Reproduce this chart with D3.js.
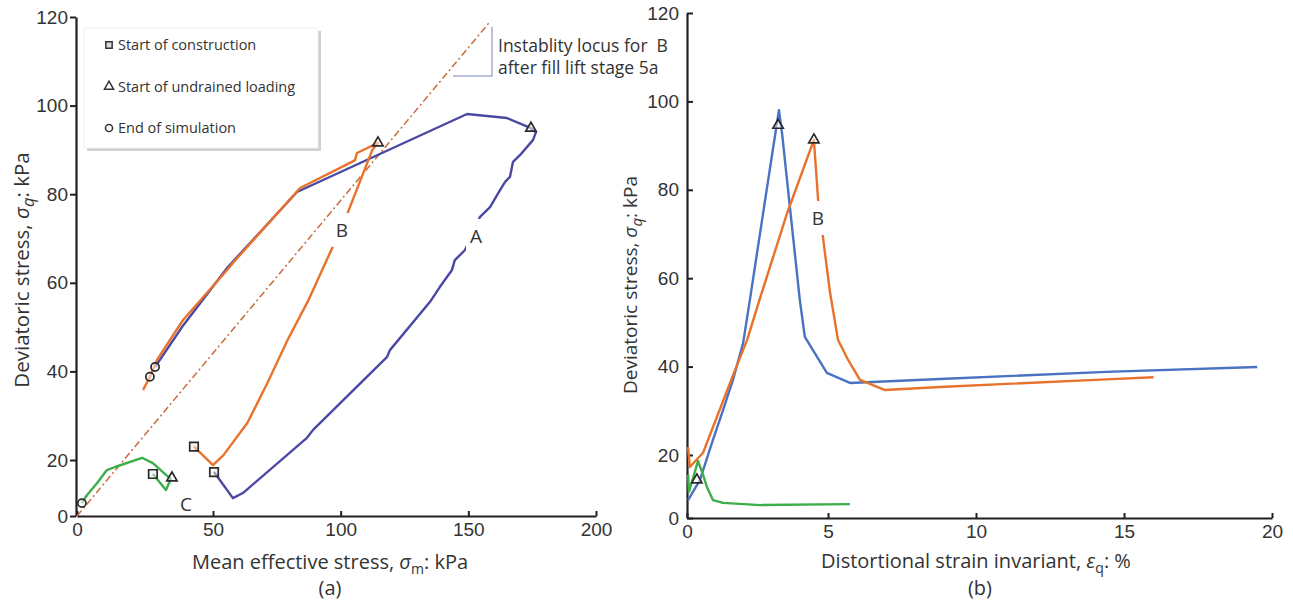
<!DOCTYPE html>
<html lang="en">
<head>
<meta charset="UTF-8">
<title>Stress paths</title>
<script src="https://d3js.org/d3.v7.min.js"></script>
<style>
    body { margin: 0; background: #fff; }
    svg { font-family: "Open Sans", "Noto Sans", sans-serif; }
    .tick text { font-size: 19px; fill: #333; }
    .tick line { stroke: #231f20; stroke-width: 2; }
    .domain { stroke: #231f20; stroke-width: 2.2; }
    .title { font-size: 20px; fill: #333; }
    .leg { font-size: 14.5px; fill: #333; }
    .note { font-size: 17.5px; fill: #333; }
    .lbl { font-size: 19px; fill: #333; }
</style>
</head>
<body>
<svg id="canvas" width="1293" height="602"></svg>
<script>
// ---- data (a): mean effective stress vs deviatoric stress, kPa
let pTicks = [0, 50, 100, 150, 200];
let qTicks = [0, 20, 40, 60, 80, 100, 120];
let pathA = [[50.4,15.7],[57.8,6.4],[61.7,8.2],[86.8,25.0],[89.2,26.8],[118.2,43.3],[119.3,44.8],
    [135.0,55.7],[138.9,59.1],[143.6,62.9],[144.7,65.1],[148.7,67.4],[154.6,74.9],[158.5,77.1],
    [162.4,80.9],[164.4,82.8],[166.3,83.9],[167.5,87.3],[170.2,88.8],[175.3,92.2],[176.5,94.0],
    [174.5,94.9],[165.1,97.2],[149.5,98.1],[82.9,80.5],[55.9,63.6],[38.6,50.0],[28.7,41.0]];
let pathB = [[43.0,23.0],[50.0,18.2],[54.1,21.1],[63.5,28.4],[71.3,37.4],[79.2,47.1],[87.4,56.1],
    [97.2,68.5],[102.9,76.0],[112.4,90.0],[114.6,91.6],[106.4,89.3],[105.6,87.7],[104.4,87.3],
    [84.1,81.4],[57.8,64.5],[55.5,62.9],[39.0,51.6],[29.4,42.6],[26.8,38.8],[24.3,35.8]];
let pathC = [[27.9,15.0],[32.7,9.3],[34.5,13.2],[31.6,15.7],[27.9,18.9],[23.9,20.5],[14.0,17.5],
    [11.0,16.4],[7.4,11.8],[3.7,7.5],[1.8,4.6]];
let instability = [[0,0],[158,118.6]];
let startsA = [[50.4,15.7],[43.0,23.0],[27.9,15.0]];
let undrainedA = [[174.5,94.9],[114.6,91.6],[34.9,13.6]];
let endsA = [[28.7,41.0],[26.8,38.8],[1.8,4.6]];

// ---- data (b): distortional strain invariant (%) vs deviatoric stress
let eTicks = [0, 5, 10, 15, 20];
let strainA = [[0.04,5.7],[0.46,12.1],[0.92,23.4],[1.28,30.2],[1.63,37.0],[1.99,45.3],
    [2.23,55.1],[2.84,80.6],[3.26,98.0],[3.37,92.8],[4.0,55.1],[4.18,46.7],[4.96,38.6],[5.74,36.3],
    [8.78,37.2],[14.4,38.8],[19.5,39.9]];
let strainB = [[0.04,21.8],[0.1,16.2],[0.57,20.5],[1.06,28.6],[1.63,38.0],[2.13,46.0],[2.59,55.5],
    [3.55,74.7],[4.5,91.3],[4.65,77.7],[4.82,69.3],[5.07,56.7],[5.34,46.0],[5.68,41.5],[6.08,37.0],
    [6.93,34.7],[8.78,35.4],[14.4,37.1],[16.0,37.6]];
let strainC = [[0.04,13.7],[0.07,8.3],[0.39,18.1],[0.57,13.7],[0.71,9.8],[0.92,5.7],[1.28,4.8],
    [2.6,4.1],[5.74,4.4]];
let undrainedB = [[3.23,94.6],[4.5,91.3],[0.35,12.1]];

let colA = "#4b48a3", colB = "#e8722c", colC = "#3cae4a", colA2 = "#4a72c2";

let svg = d3.select('svg');

let xA = d3.scaleLinear().domain([0, 50, 200]).range([77, 213, 596]);
let yA = d3.scaleLinear().domain([0, 20, 120]).range([516, 460, 17]);
let xB = d3.scaleLinear().domain([0, 5, 20]).range([687, 828, 1272]);
let yB = d3.scaleLinear().domain([0, 20, 120]).range([518, 455, 13]);

// ---------- panel (a)
let gA = svg.append('g');

gA.append('g').attr('transform', 'translate(0,516)')
    .call(d3.axisBottom(xA).tickValues(pTicks).tickSizeInner(-5).tickSizeOuter(0).tickPadding(5))
    .call(g => g.selectAll('.tick text').attr('dy', '0.78em'));
gA.append('g').attr('transform', 'translate(76,0)')
    .call(d3.axisLeft(yA).tickValues(qTicks).tickSizeInner(6).tickSizeOuter(0).tickPadding(2));

// legend
let leg = gA.append('g');
leg.append('rect').attr('x', 87).attr('y', 31).attr('width', 234).attr('height', 120)
    .attr('fill', '#cfcfcf');
leg.append('rect').attr('x', 84).attr('y', 28).attr('width', 234).attr('height', 120)
    .attr('fill', '#fff').attr('stroke', '#f0f0f0');
let legItems = ["Start of construction", "Start of undrained loading", "End of simulation"];
let legShapes = [d3.symbolSquare, d3.symbolTriangle, d3.symbolCircle];
legItems.forEach(function (t, i) {
    let yy = 45 + i * 41.5;
    leg.append('path').attr('d', d3.symbol(legShapes[i], i === 1 ? 36 : 40)())
        .attr('transform', 'translate(109,' + yy + ')')
        .attr('fill', i === 0 ? '#ddd' : '#fff').attr('stroke', '#333').attr('stroke-width', 1.5);
    leg.append('text').attr('class', 'leg').attr('x', 118).attr('y', yy + 5).text(t);
});

let lineA = d3.line().x(d => xA(d[0])).y(d => yA(d[1]));

gA.append('path').attr('d', lineA(instability)).attr('fill', 'none')
    .attr('stroke', '#c96a3e').attr('stroke-width', 1.5).attr('stroke-dasharray', '7,3,2,3');

// annotation bracket
gA.append('path').attr('d', 'M492,27V76H453').attr('fill', 'none')
    .attr('stroke', '#a4acd4').attr('stroke-width', 1.5);
gA.append('text').attr('class', 'note').attr('x', 498).attr('y', 52).text('Instablity locus for\u00a0 B');
gA.append('text').attr('class', 'note').attr('x', 498).attr('y', 74).text('after fill lift stage 5a');

[[pathA, colA], [pathB, colB], [pathC, colC]].forEach(function (s) {
    gA.append('path').attr('d', lineA(s[0])).attr('fill', 'none')
        .attr('stroke', s[1]).attr('stroke-width', 2.4).attr('stroke-linejoin', 'round');
});

function label(g, x, y, t) {
    g.append('rect').attr('x', x - 10).attr('y', y - 17).attr('width', 20).attr('height', 34).attr('fill', '#fff');
    g.append('text').attr('class', 'lbl').attr('x', x).attr('y', y + 7).attr('text-anchor', 'middle').text(t);
}
label(gA, 476, 236, 'A');
label(gA, 342, 230, 'B');
gA.append('text').attr('class', 'lbl').attr('x', 186).attr('y', 511).attr('text-anchor', 'middle').text('C');

function markers(g, pts, shape, size, fill, sx, sy) {
    g.selectAll(null).data(pts).enter().append('path')
        .attr('d', d3.symbol(shape, size)())
        .attr('transform', d => 'translate(' + sx(d[0]) + ',' + sy(d[1]) + ')')
        .attr('fill', fill).attr('fill-opacity', 0.5).attr('stroke', '#2a2a2a').attr('stroke-width', 1.7);
}
markers(gA, startsA, d3.symbolSquare, 72, '#eee', xA, yA);
markers(gA, undrainedA, d3.symbolTriangle, 46, '#fff', xA, yA);
markers(gA, endsA, d3.symbolCircle, 52, '#fff', xA, yA);

// axis titles (a)
let tx = gA.append('text').attr('class', 'title').attr('x', 330).attr('y', 569).attr('text-anchor', 'middle');
tx.append('tspan').text('Mean effective stress, ');
tx.append('tspan').style('font-style', 'italic').text('\u03c3');
tx.append('tspan').attr('dy', 5).style('font-size', '14px').text('m');
tx.append('tspan').attr('dy', -5).text(': kPa');
gA.append('text').attr('class', 'title').attr('x', 330).attr('y', 595).attr('text-anchor', 'middle').text('(a)');

function qTitle(g, x, y, size) {
    let t = g.append('text').attr('text-anchor', 'middle').style('font-size', size + 'px').attr('fill', '#333')
        .attr('transform', 'translate(' + x + ',' + y + ') rotate(-90)');
    t.append('tspan').text('Deviatoric stress, ');
    t.append('tspan').style('font-style', 'italic').text('\u03c3');
    t.append('tspan').attr('dy', 5).style('font-size', (size - 4) + 'px').style('font-style', 'italic').text('q');
    t.append('tspan').attr('dy', -5).text(': kPa');
}
qTitle(gA, 29, 270, 20.5);

// ---------- panel (b)
let gB = svg.append('g');
gB.append('g').attr('transform', 'translate(0,518)')
    .call(d3.axisBottom(xB).tickValues(eTicks).tickSizeInner(-5).tickSizeOuter(0).tickPadding(5))
    .call(g => g.selectAll('.tick text').attr('dy', '0.78em'));
gB.append('g').attr('transform', 'translate(687,0)')
    .call(d3.axisLeft(yB).tickValues(qTicks).tickSizeInner(-6).tickSizeOuter(0).tickPadding(8));

let lineB = d3.line().x(d => xB(d[0])).y(d => yB(d[1]));
[[strainA, colA2], [strainB, colB], [strainC, colC]].forEach(function (s) {
    gB.append('path').attr('d', lineB(s[0])).attr('fill', 'none')
        .attr('stroke', s[1]).attr('stroke-width', 2.4).attr('stroke-linejoin', 'round');
});
label(gB, 818, 218, 'B');
markers(gB, undrainedB, d3.symbolTriangle, 46, '#fff', xB, yB);

let tb = gB.append('text').attr('class', 'title').attr('x', 976).attr('y', 568).attr('text-anchor', 'middle');
tb.append('tspan').text('Distortional strain invariant, ');
tb.append('tspan').style('font-style', 'italic').text('\u03b5');
tb.append('tspan').attr('dy', 5).style('font-size', '14px').text('q');
tb.append('tspan').attr('dy', -5).text(': %');
gB.append('text').attr('class', 'title').attr('x', 980).attr('y', 595).attr('text-anchor', 'middle').text('(b)');
qTitle(gB, 637, 285, 19);
</script>
</body>
</html>
